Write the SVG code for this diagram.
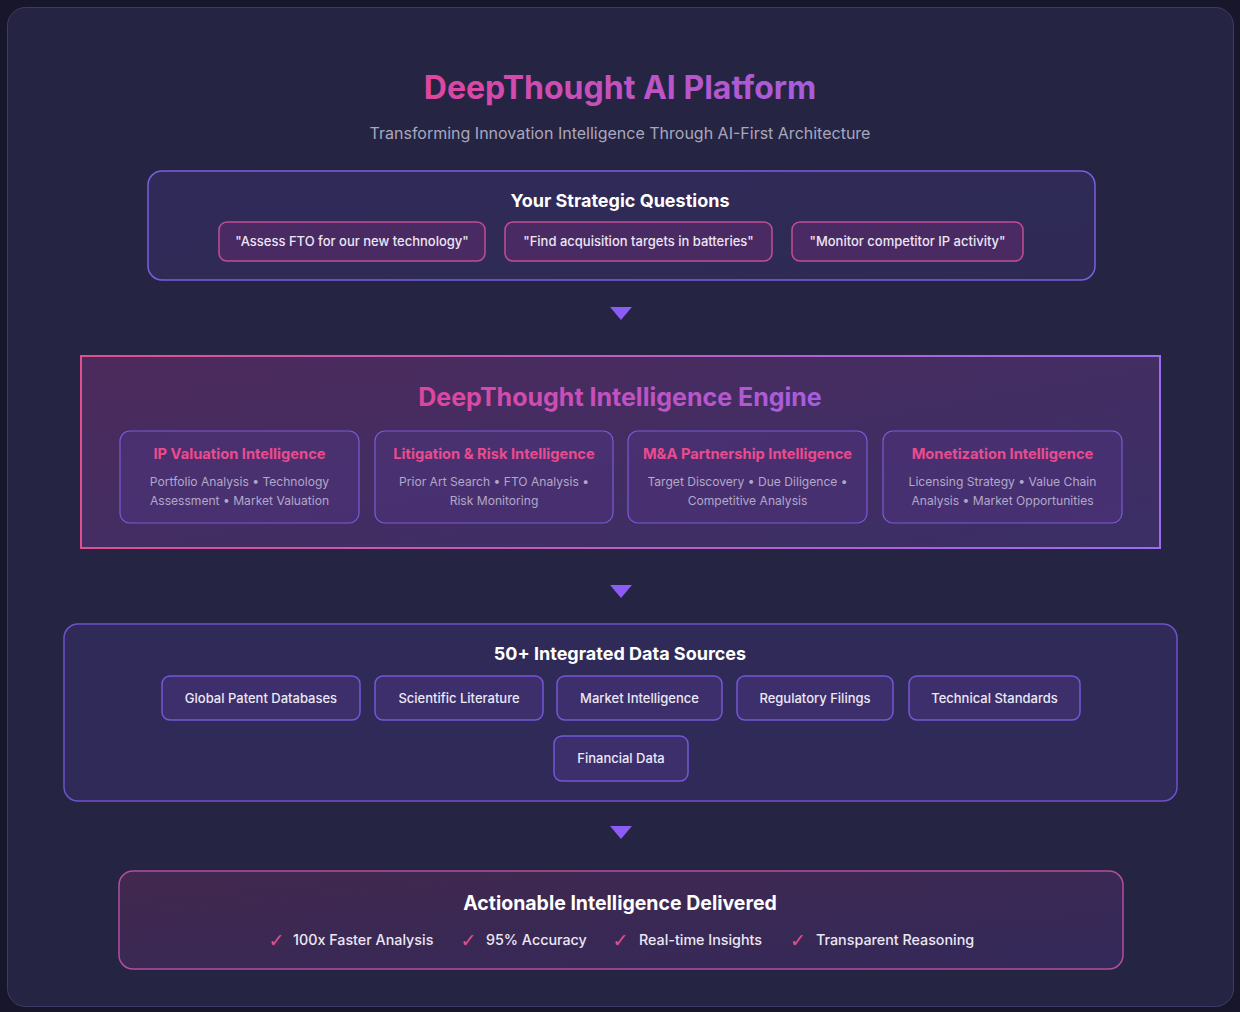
<svg xmlns="http://www.w3.org/2000/svg" width="1240" height="1012" viewBox="0 0 1240 1012">
<defs>
<linearGradient id="titleGrad" x1="0" y1="0" x2="1" y2="0">
<stop offset="0" stop-color="#e0459e"/>
<stop offset="1" stop-color="#a45ee0"/>
</linearGradient>
<linearGradient id="engineFill" x1="0" y1="0" x2="1" y2="1">
<stop offset="0" stop-color="#4d2a5c"/>
<stop offset="0.5" stop-color="#432d62"/>
<stop offset="1" stop-color="#3a2f66"/>
</linearGradient>
<linearGradient id="engineStroke" x1="0" y1="0" x2="1" y2="0">
<stop offset="0" stop-color="#e0508f"/>
<stop offset="1" stop-color="#9a6cf0"/>
</linearGradient>
<linearGradient id="outFill" x1="0" y1="0" x2="1" y2="1">
<stop offset="0" stop-color="#42284e"/>
<stop offset="1" stop-color="#33295a"/>
</linearGradient>
<linearGradient id="qFill" x1="0" y1="0" x2="1" y2="1">
<stop offset="0" stop-color="#302a58"/>
<stop offset="1" stop-color="#2e2a55"/>
</linearGradient>
</defs>
<style>
text{font-family:Inter,"Liberation Sans",sans-serif;text-anchor:middle}
.sec{fill:#ffffff;font-weight:700;font-size:18px}
.q rect{fill:#4a2a62;stroke:#c24d96;stroke-width:1.5}
.q text{fill:#ece6f4;font-size:13px;font-weight:500}
.mod rect{fill:#4b3276;fill-opacity:0.7;stroke:#7a5ad6;stroke-width:1.2}
.mod .t{fill:#ea4b8d;font-size:14.7px;font-weight:700}
.mod .d{fill:#b2a8c8;font-size:12.1px}
.src rect{fill:#3c2f6c;stroke:#7657d6;stroke-width:1.5}
.src text{fill:#ece8f6;font-size:13px;font-weight:500}
.chk{fill:#e0508f;font-size:19px;font-family:"DejaVu Sans",sans-serif}
.item{fill:#ebe8f4;font-size:14.3px;font-weight:500;text-anchor:start}
.arrow{fill:#8b5cf6}
</style>
<rect x="0" y="0" width="1240" height="1012" fill="#17162b"/>
<rect id="card" x="7.5" y="7.5" width="1226" height="999" rx="18" fill="#252442" stroke="#3f3a66" stroke-width="1"/>

<g id="header">
<text x="620" y="99" font-size="32" font-weight="700" fill="url(#titleGrad)">DeepThought AI Platform</text>
<text x="620" y="139" font-size="16" fill="#a9a7bf">Transforming Innovation Intelligence Through AI-First Architecture</text>
</g>

<g id="questions">
<rect x="148" y="171" width="947" height="109" rx="14" fill="url(#qFill)" stroke="#7b5ee0" stroke-width="1.5"/>
<text class="sec" x="620" y="207">Your Strategic Questions</text>
<g class="q" id="q1"><rect x="219" y="222" width="266" height="39" rx="8"/><text x="352" y="246">"Assess FTO for our new technology"</text></g>
<g class="q" id="q2"><rect x="505" y="222" width="267" height="39" rx="8"/><text x="638.5" y="246">"Find acquisition targets in batteries"</text></g>
<g class="q" id="q3"><rect x="792" y="222" width="231" height="39" rx="8"/><text x="907.5" y="246">"Monitor competitor IP activity"</text></g>
</g>

<g id="connectors">
<polygon class="arrow" points="610,307 632,307 621,320"/>
<polygon class="arrow" points="610,585 632,585 621,598"/>
<polygon class="arrow" points="610,826 632,826 621,839"/>
</g>

<g id="engine">
<rect x="81" y="356" width="1079" height="192" fill="url(#engineFill)" stroke="url(#engineStroke)" stroke-width="2"/>
<text x="620" y="406" font-size="25" font-weight="700" fill="url(#titleGrad)">DeepThought Intelligence Engine</text>
<g class="mod" id="m1"><rect x="120" y="431" width="239" height="92" rx="10"/><text class="t" x="239.5" y="459">IP Valuation Intelligence</text><text class="d" x="239.5" y="486">Portfolio Analysis • Technology</text><text class="d" x="239.5" y="505">Assessment • Market Valuation</text></g>
<g class="mod" id="m2"><rect x="375" y="431" width="238" height="92" rx="10"/><text class="t" x="494" y="459">Litigation &amp; Risk Intelligence</text><text class="d" x="494" y="486">Prior Art Search • FTO Analysis •</text><text class="d" x="494" y="505">Risk Monitoring</text></g>
<g class="mod" id="m3"><rect x="628" y="431" width="239" height="92" rx="10"/><text class="t" x="747.5" y="459">M&amp;A Partnership Intelligence</text><text class="d" x="747.5" y="486">Target Discovery • Due Diligence •</text><text class="d" x="747.5" y="505">Competitive Analysis</text></g>
<g class="mod" id="m4"><rect x="883" y="431" width="239" height="92" rx="10"/><text class="t" x="1002.5" y="459">Monetization Intelligence</text><text class="d" x="1002.5" y="486">Licensing Strategy • Value Chain</text><text class="d" x="1002.5" y="505">Analysis • Market Opportunities</text></g>
</g>

<g id="sources">
<rect x="64" y="624" width="1113" height="177" rx="14" fill="#2f2a57" stroke="#6d52cc" stroke-width="1.5"/>
<text class="sec" x="620" y="660">50+ Integrated Data Sources</text>
<g class="src" id="s1"><rect x="162" y="676" width="198" height="44" rx="8"/><text x="261" y="703">Global Patent Databases</text></g>
<g class="src" id="s2"><rect x="375" y="676" width="168" height="44" rx="8"/><text x="459" y="703">Scientific Literature</text></g>
<g class="src" id="s3"><rect x="557" y="676" width="165" height="44" rx="8"/><text x="639.5" y="703">Market Intelligence</text></g>
<g class="src" id="s4"><rect x="737" y="676" width="156" height="44" rx="8"/><text x="815" y="703">Regulatory Filings</text></g>
<g class="src" id="s5"><rect x="909" y="676" width="171" height="44" rx="8"/><text x="994.5" y="703">Technical Standards</text></g>
<g class="src" id="s6"><rect x="554" y="736" width="134" height="45" rx="8"/><text x="621" y="763">Financial Data</text></g>
</g>

<g id="output">
<rect x="119" y="871" width="1004" height="98" rx="14" fill="url(#outFill)" stroke="#b24e9c" stroke-width="1.5"/>
<text x="620" y="910" font-size="19.5" font-weight="700" fill="#ffffff">Actionable Intelligence Delivered</text>
<text class="chk" x="276.5" y="947">✓</text><text class="item" x="293" y="945">100x Faster Analysis</text>
<text class="chk" x="468.5" y="947">✓</text><text class="item" x="486" y="945">95% Accuracy</text>
<text class="chk" x="620.5" y="947">✓</text><text class="item" x="639" y="945">Real-time Insights</text>
<text class="chk" x="798" y="947">✓</text><text class="item" x="816" y="945">Transparent Reasoning</text>
</g>
</svg>
